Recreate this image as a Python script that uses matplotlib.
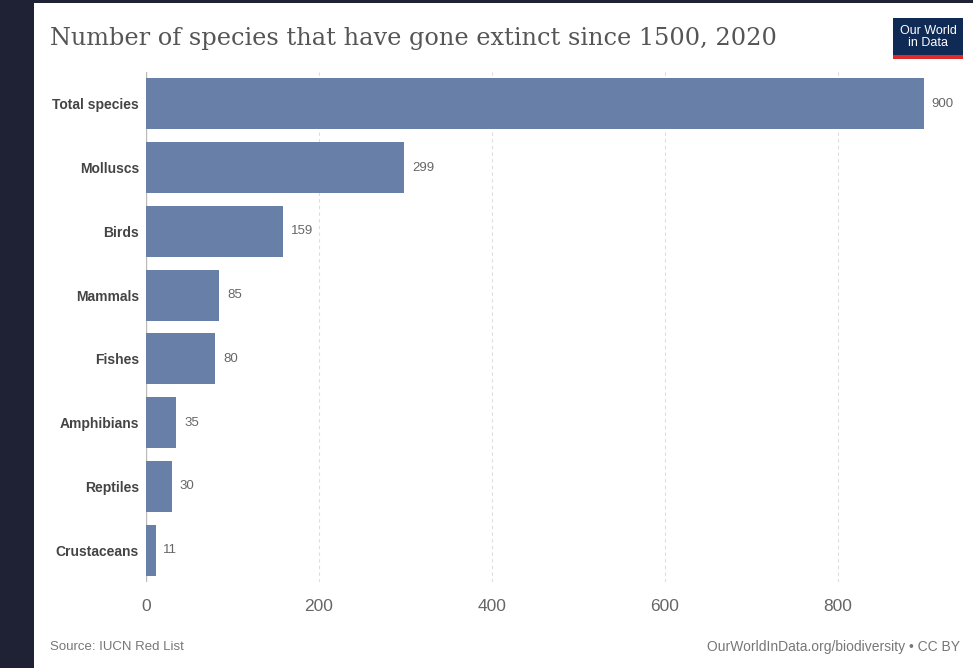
import matplotlib.pyplot as plt
from matplotlib.patches import Rectangle

# ============================
# Data
# ============================
groups = ["Total species", "Molluscs", "Birds", "Mammals", "Fishes",
          "Amphibians", "Reptiles", "Crustaceans"]
extinct = [900, 299, 159, 85, 80, 35, 30, 11]
ticks = [0, 200, 400, 600, 800]

plt.rcParams["font.family"] = ["Liberation Sans", "DejaVu Sans"]

W, H = 973, 668
fig = plt.figure(figsize=(W / 100, H / 100), dpi=100)
fig.patch.set_facecolor("#1e2234")

# white card behind everything
fig.patches.append(Rectangle((34 / W, 0), 1 - 34 / W, 1 - 3 / H,
                             transform=fig.transFigure, facecolor="white",
                             edgecolor="none", zorder=-10))

# ============================
# Bars
# ============================
ax = fig.add_axes([146 / W, 1 - 582 / H, (924 - 146) / W, (582 - 72) / H])
ax.set_facecolor("none")
pos = list(range(len(groups)))
ax.barh(pos, extinct, height=0.8, color="#687fa8", zorder=2)

for p, v in zip(pos, extinct):
    ax.text(v + 9, p, str(v), va="center", ha="left", fontsize=9.5,
            color="#666666")

ax.set_ylim(len(groups) - 0.5, -0.5)
ax.set_xlim(0, 900)
ax.set_yticks(pos)
ax.set_yticklabels(groups, fontsize=10, fontweight="bold", color="#444444")
ax.set_xticks(ticks)
ax.set_xticklabels([str(t) for t in ticks], fontsize=12.5, color="#666666")
ax.tick_params(axis="both", length=0)
ax.tick_params(axis="y", pad=5)
ax.tick_params(axis="x", pad=12)

for s in ax.spines.values():
    s.set_visible(False)
ax.axvline(0, color="#bbbbbb", linewidth=1, zorder=1)
for t in ticks[1:]:
    ax.axvline(t, color="#dddddd", linewidth=0.8, linestyle=(0, (3, 3)),
               zorder=1)

# ============================
# Title, logo, footer
# ============================
fig.text(50 / W, 1 - 38 / H,
         "Number of species that have gone extinct since 1500, 2020",
         fontsize=17.3, family="DejaVu Serif", color="#555555", va="center")

fig.patches.append(Rectangle((893 / W, 1 - 55 / H), 70 / W, 37 / H,
                             transform=fig.transFigure, facecolor="#0f2a55",
                             edgecolor="none", zorder=3))
fig.patches.append(Rectangle((893 / W, 1 - 59 / H), 70 / W, 4 / H,
                             transform=fig.transFigure, facecolor="#dd2a2a",
                             edgecolor="none", zorder=3))
fig.text(928 / W, 1 - 37 / H, "Our World\nin Data", fontsize=9,
         color="white", ha="center", va="center", linespacing=0.9, zorder=4)

fig.text(50 / W, 1 - 647 / H, "Source: IUCN Red List", fontsize=9.5,
         color="#777777", va="center")
fig.text(960 / W, 1 - 647 / H, "OurWorldInData.org/biodiversity • CC BY",
         fontsize=10, color="#777777", va="center", ha="right")

fig.savefig("out.png", dpi=100, facecolor=fig.get_facecolor())
